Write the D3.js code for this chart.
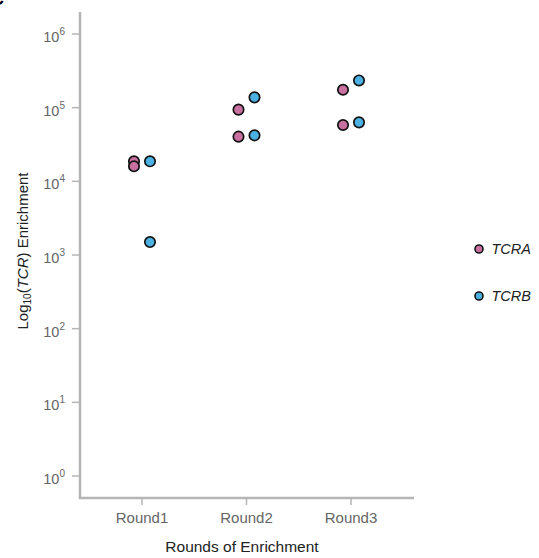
<!DOCTYPE html>
<html>
<head>
<meta charset="utf-8">
<script src="https://cdn.jsdelivr.net/npm/d3@7"></script>
<style>
  body { margin: 0; background: #fff; }
  text { font-family: "Liberation Sans", Arial, sans-serif; }
</style>
</head>
<body>
<div id="chart"></div>
<script>
// data
var rounds = ["Round1", "Round2", "Round3"];
var seriesNames = ["TCRA", "TCRB"];
var tcraValues = [[18700, 16000], [94000, 40400], [175000, 58200]];
var tcrbValues = [[18700, 1500], [138000, 42100], [234000, 63200]];
var yTicks = [1, 10, 100, 1000, 10000, 100000, 1000000];
var colors = ["#c8709f", "#4db0e2"];

var width = 539, height = 558;
var margin = {top: 12, right: 125, bottom: 60, left: 80};

var svg = d3.select("#chart")
  .append("svg")
    .attr("width", width)
    .attr("height", height);

// panel letter, mostly cropped off
svg.append("text")
  .attr("x", -9).attr("y", 5)
  .attr("font-size", 18).attr("font-weight", "bold")
  .text("C");

var x = d3.scalePoint()
  .domain(rounds)
  .range([142, 351]);

var y = d3.scaleLog()
  .domain([1, 1e6])
  .range([476, 34]);

var axisColor = "#b5b5b5";

// y axis
var gy = svg.append("g").attr("transform", "translate(" + margin.left + ",0)");
gy.append("line")
  .attr("x1", 0).attr("x2", 0)
  .attr("y1", margin.top).attr("y2", 498)
  .attr("stroke", axisColor).attr("stroke-width", 2.5);
gy.selectAll(".tick")
  .data(yTicks)
  .enter().append("line")
    .attr("x1", -8).attr("x2", 0)
    .attr("y1", function(d) { return y(d); })
    .attr("y2", function(d) { return y(d); })
    .attr("stroke", axisColor).attr("stroke-width", 1.5);
var yl = gy.selectAll(".lab")
  .data(yTicks)
  .enter().append("text")
    .attr("x", -15)
    .attr("y", function(d) { return y(d) + 8; })
    .attr("text-anchor", "end")
    .attr("fill", "#666")
    .attr("font-size", 14.5);
yl.append("tspan").text("10");
yl.append("tspan")
  .attr("dy", -7).attr("font-size", 10)
  .text(function(d) { return Math.round(Math.log10(d)); });

// x axis
var gx = svg.append("g").attr("transform", "translate(0,498)");
gx.append("line")
  .attr("x1", margin.left - 1.25).attr("x2", 414)
  .attr("y1", 0).attr("y2", 0)
  .attr("stroke", axisColor).attr("stroke-width", 2.5);
gx.selectAll(".tick")
  .data(rounds)
  .enter().append("line")
    .attr("x1", function(d) { return x(d); })
    .attr("x2", function(d) { return x(d); })
    .attr("y1", 0).attr("y2", 7)
    .attr("stroke", axisColor).attr("stroke-width", 1.5);
gx.selectAll(".lab")
  .data(rounds)
  .enter().append("text")
    .attr("x", function(d) { return x(d); })
    .attr("y", 25)
    .attr("text-anchor", "middle")
    .attr("fill", "#666")
    .attr("font-size", 15)
    .text(function(d) { return d; });

// axis titles
svg.append("text")
  .attr("x", 242).attr("y", 551.5)
  .attr("text-anchor", "middle")
  .attr("font-size", 15.5)
  .attr("fill", "#222")
  .text("Rounds of Enrichment");

var yt = svg.append("text")
  .attr("transform", "translate(28,251) rotate(-90)")
  .attr("text-anchor", "middle")
  .attr("font-size", 15)
  .attr("fill", "#222");
yt.append("tspan").text("Log");
yt.append("tspan").attr("font-size", 10).attr("dy", 3).text("10");
yt.append("tspan").attr("dy", -3).text("(");
yt.append("tspan").attr("font-style", "italic").text("TCR");
yt.append("tspan").text(") Enrichment");

// points
var points = [];
rounds.forEach(function(r, i) {
  tcraValues[i].forEach(function(v) { points.push({round: r, value: v, s: 0}); });
  tcrbValues[i].forEach(function(v) { points.push({round: r, value: v, s: 1}); });
});

svg.selectAll(".pt")
  .data(points)
  .enter().append("circle")
    .attr("cx", function(d) { return x(d.round) + (d.s === 0 ? -8 : 8); })
    .attr("cy", function(d) { return y(d.value); })
    .attr("r", 5.2)
    .attr("fill", function(d) { return colors[d.s]; })
    .attr("stroke", "#111")
    .attr("stroke-width", 1.7);

// legend
var leg = svg.selectAll(".leg")
  .data(seriesNames)
  .enter().append("g")
    .attr("transform", function(d, i) { return "translate(479," + (249 + i * 47) + ")"; });
leg.append("circle")
  .attr("r", 4)
  .attr("fill", function(d, i) { return colors[i]; })
  .attr("stroke", "#111")
  .attr("stroke-width", 1.6);
leg.append("text")
  .attr("x", 12.5).attr("y", 5)
  .attr("font-size", 14.5)
  .attr("font-style", "italic")
  .attr("fill", "#222")
  .text(function(d) { return d; });
</script>
</body>
</html>
